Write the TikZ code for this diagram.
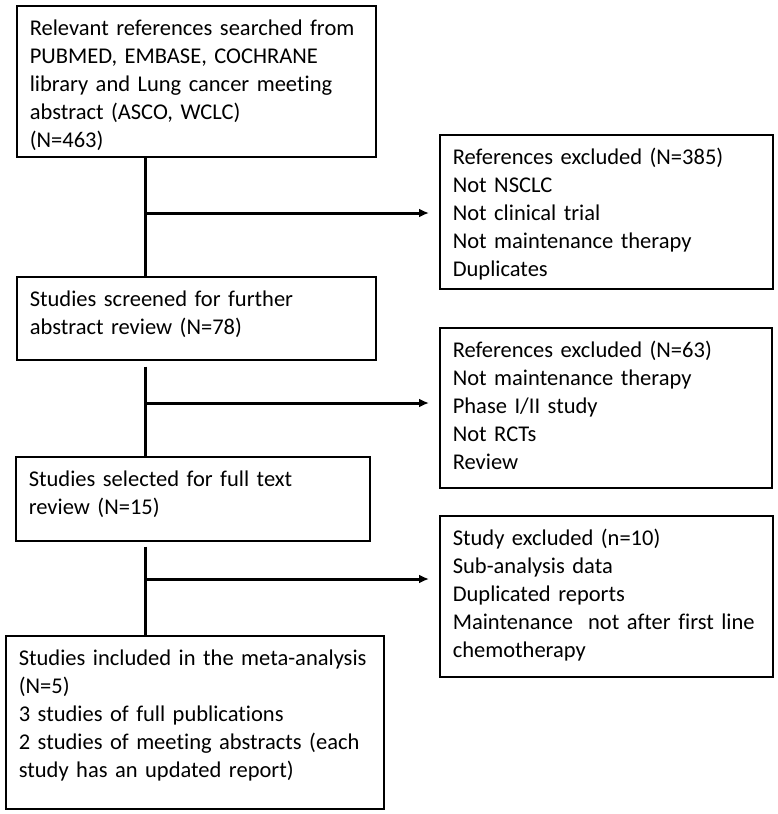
\documentclass[tikz,border=0pt]{standalone}
\usepackage{fontspec}
\setmainfont[Ligatures=NoCommon]{Carlito}
\usetikzlibrary{arrows.meta}

\tikzset{
	flowbox/.style={draw, line width=1.6pt, anchor=north west, align=left,
		inner xsep=13pt, inner ysep=0pt, text height=30pt,
		font=\fontsize{22.5}{28}\selectfont},
	link/.style={line width=3pt},
	outarrow/.style={line width=3pt, -{Latex[length=10pt,width=9pt]}, shorten >=10pt}
}

\begin{document}
\begin{tikzpicture}[x=1pt,y=-1pt]
\useasboundingbox (0,0) rectangle (777,814);

\node[flowbox, text width=333pt, text depth=121pt] (search) at (16,5)
	{Relevant references searched from\\PUBMED, EMBASE, COCHRANE\\library and Lung cancer meeting\\abstract (ASCO, WCLC)\\(N=463)};
\node[flowbox, text width=307pt, text depth=124pt] (excl1) at (439,134)
	{References excluded (N=385)\\Not NSCLC\\Not clinical trial\\Not maintenance therapy\\Duplicates};
\node[flowbox, text width=333pt, text depth=53pt] (screen) at (16,276)
	{Studies screened for further\\abstract review (N=78)};
\node[flowbox, text width=306pt, text depth=130pt] (excl2) at (439,327)
	{References excluded (N=63)\\Not maintenance therapy\\Phase I/II study\\Not RCTs\\Review};
\node[flowbox, text width=328pt, text depth=54pt] (full) at (15,456)
	{Studies selected for full text\\review (N=15)};
\node[flowbox, text width=307pt, text depth=131pt] (excl3) at (439,515)
	{Study excluded (n=10)\\Sub-analysis data\\Duplicated reports\\Maintenance\ \ not after first line\\chemotherapy};
\node[flowbox, text width=352pt, text depth=143pt] (incl) at (5,635)
	{Studies included in the meta-analysis\\(N=5)\\3 studies of full publications\\2 studies of meeting abstracts (each\\study has an updated report)};

% main stem and branches
\coordinate (j1) at (145,213);
\coordinate (j2) at (145,403);
\coordinate (j3) at (145,579);

\draw[link] (j1 |- search.south) -- (j1 |- screen.north);
\draw[link, shorten <=6pt] (j2 |- screen.south) -- (j2 |- full.north);
\draw[link, shorten <=5pt] (j3 |- full.south) -- (j3 |- incl.north);

\draw[outarrow] (j1) -- (j1 -| excl1.west);
\draw[outarrow] (j2) -- (j2 -| excl2.west);
\draw[outarrow] (j3) -- (j3 -| excl3.west);
\end{tikzpicture}
\end{document}
